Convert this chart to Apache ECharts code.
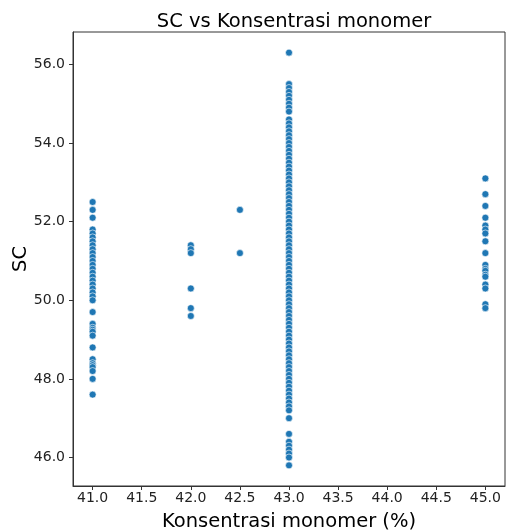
<!DOCTYPE html>
<html>
<head>
<meta charset="utf-8">
<script src="https://cdn.jsdelivr.net/npm/echarts@6/dist/echarts.min.js"></script>
<style>
  html, body { margin: 0; padding: 0; background: #fff; }
  #chart { width: 506px; height: 532px; }
</style>
</head>
<body>
<div id="chart"></div>
<script>
// SC vs konsentrasi monomer
var sc41 = [52.5, 52.3, 52.1, 51.8, 51.7, 51.6, 51.5, 51.4, 51.3, 51.2, 51.1, 51.0, 50.9,
  50.8, 50.7, 50.6, 50.5, 50.4, 50.3, 50.2, 50.1, 50.0, 49.7, 49.4, 49.3, 49.25, 49.2, 49.1,
  48.8, 48.5, 48.4, 48.35, 48.3, 48.2, 48.0, 47.6];
var sc42 = [51.4, 51.3, 51.2, 50.3, 49.8, 49.6];
var sc425 = [52.3, 51.2];
var sc43 = [56.3, 55.5, 55.4, 55.3, 55.2, 55.1, 55.0, 54.9, 54.8, 54.6, 54.5, 54.4, 54.3,
  54.2, 54.1, 54.0, 53.9, 53.8, 53.7, 53.6, 53.5, 53.4, 53.3, 53.2, 53.1, 53.0, 52.9, 52.8,
  52.7, 52.6, 52.5, 52.4, 52.3, 52.2, 52.1, 52.0, 51.9, 51.8, 51.7, 51.6, 51.5, 51.4, 51.3,
  51.2, 51.1, 51.0, 50.9, 50.8, 50.7, 50.6, 50.5, 50.4, 50.3, 50.2, 50.1, 50.0, 49.9, 49.8,
  49.7, 49.6, 49.5, 49.4, 49.3, 49.2, 49.1, 49.0, 48.9, 48.8, 48.7, 48.6, 48.5, 48.4, 48.3,
  48.2, 48.1, 48.0, 47.9, 47.8, 47.7, 47.6, 47.5, 47.4, 47.3, 47.2, 47.0, 46.6, 46.4, 46.3,
  46.2, 46.1, 46.0, 45.8];
var sc45 = [53.1, 52.7, 52.4, 52.1, 51.9, 51.8, 51.7, 51.5, 51.2, 50.9, 50.8, 50.75, 50.65,
  50.6, 50.4, 50.3, 49.9, 49.8];
var groups = [
  { x: 41, ys: sc41 },
  { x: 42, ys: sc42 },
  { x: 42.5, ys: sc425 },
  { x: 43, ys: sc43 },
  { x: 45, ys: sc45 }
];
var xTicks = [41, 41.5, 42, 42.5, 43, 43.5, 44, 44.5, 45];
var yTicks = [46, 48, 50, 52, 54, 56];

var points = [];
for (var i in groups) {
  var g = groups[i];
  for (var j in g.ys) {
    points.push([g.x, g.ys[j]]);
  }
}

var chart = echarts.init(document.getElementById('chart'));
var font = 'DejaVu Sans';
var fmt = function (v) { return Number(v).toFixed(1); };

var option = {
  animation: false,
  backgroundColor: '#fff',
  title: {
    text: 'SC vs Konsentrasi monomer',
    left: 289, top: 7, textAlign: 'center',
    textStyle: { fontFamily: font, fontSize: 19.5, fontWeight: 'normal', color: '#000' }
  },
  grid: {
    left: 73, top: 32, width: 432, height: 454,
    outerBoundsMode: 'none',
    show: true, borderColor: '#333', borderWidth: 1, containLabel: false
  },
  xAxis: {
    type: 'value', min: 40.8, max: 45.2,
    name: 'Konsentrasi monomer (%)', nameLocation: 'middle', nameGap: 26,
    nameMoveOverlap: false,
    nameTextStyle: { fontFamily: font, fontSize: 19.5, color: '#000' },
    axisLine: { onZero: false, lineStyle: { color: '#333', width: 1 } },
    axisTick: { show: true, length: 4, customValues: xTicks, lineStyle: { color: '#333' } },
    axisLabel: { customValues: xTicks, formatter: fmt, margin: 5,
      fontFamily: font, fontSize: 14, color: '#222' },
    splitLine: { show: false }
  },
  yAxis: {
    type: 'value', min: 45.275, max: 56.825,
    name: 'SC', nameLocation: 'middle', nameGap: 42, nameRotate: 90,
    nameMoveOverlap: false,
    nameTextStyle: { fontFamily: font, fontSize: 19.5, color: '#000' },
    axisLine: { onZero: false, lineStyle: { color: '#333', width: 1 } },
    axisTick: { show: true, length: 4, customValues: yTicks, lineStyle: { color: '#333' } },
    axisLabel: { customValues: yTicks, formatter: fmt, margin: 8,
      fontFamily: font, fontSize: 14, color: '#222' },
    splitLine: { show: false }
  },
  series: [{
    type: 'scatter',
    data: points,
    symbolSize: 7,
    itemStyle: { color: '#1f77b4', borderColor: '#fff', borderWidth: 0.6, opacity: 1 }
  }]
};

chart.setOption(option);
</script>
</body>
</html>
